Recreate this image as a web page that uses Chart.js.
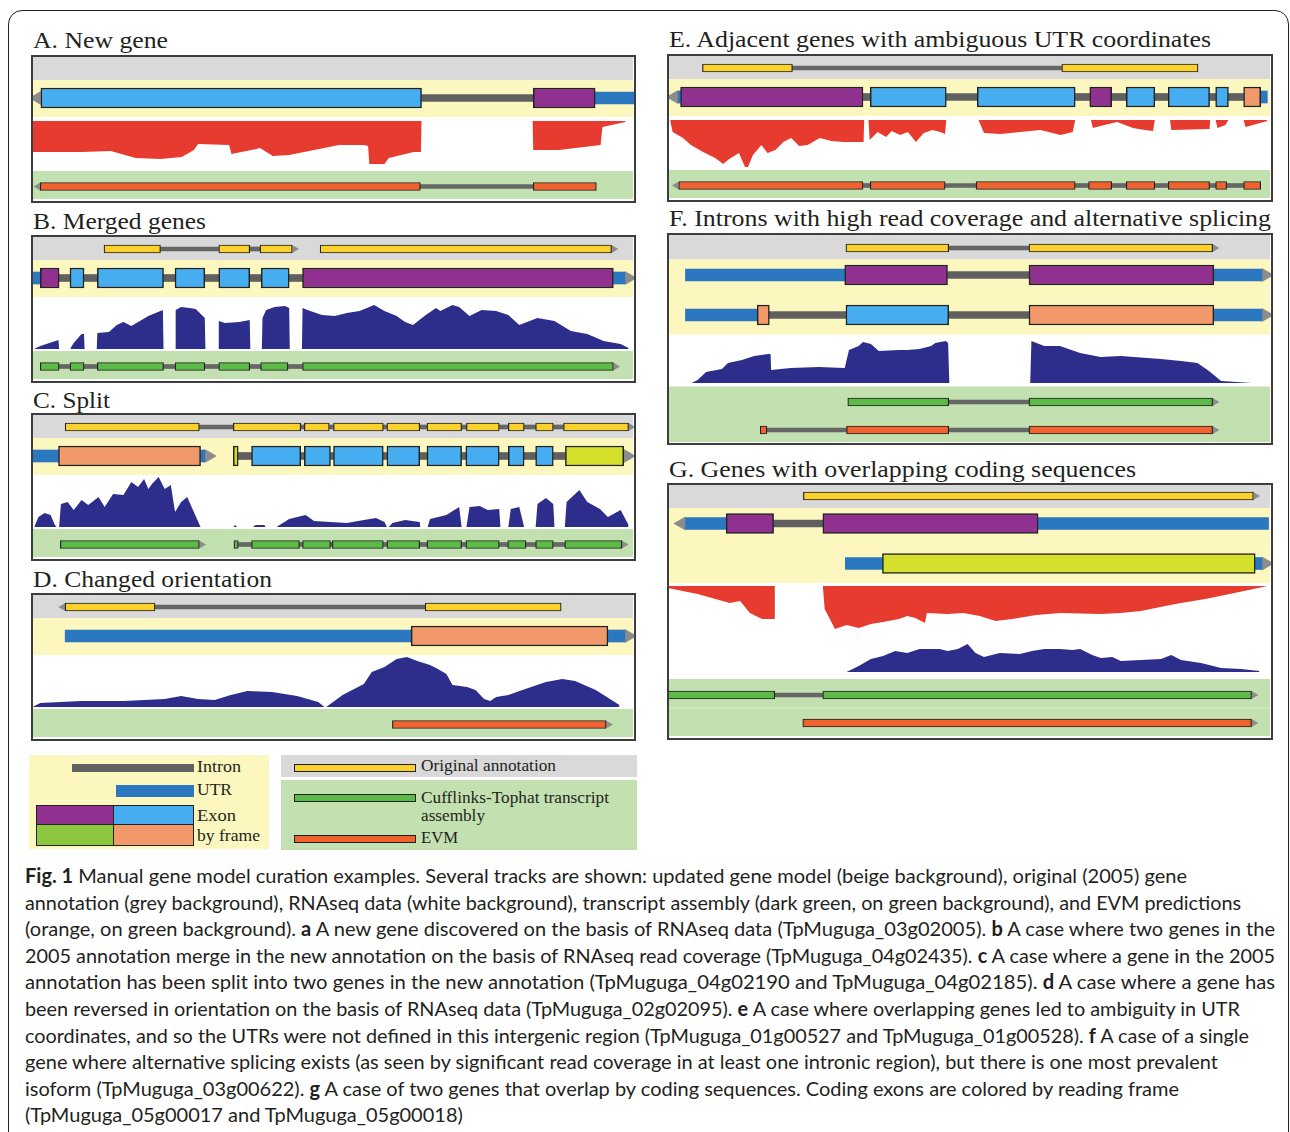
<!DOCTYPE html>
<html>
<head>
<meta charset="utf-8">
<script src="https://cdn.jsdelivr.net/npm/chart.js@4.4.1/dist/chart.umd.min.js"></script>
<style>
html, body { margin: 0; padding: 0; background: #fff; }
body { width: 1290px; height: 1132px; position: relative; overflow: hidden; }
#frame { position: absolute; left: 8px; top: 10px; width: 1281px; height: 1300px; border: 1.5px solid #222; border-radius: 14px; box-sizing: border-box; }
.box { position: absolute; border: 2px solid #3d3d3d; box-sizing: border-box; background: #fff; }
.box canvas { position: absolute; left: 0; top: 0; }
.t { position: absolute; white-space: nowrap; transform-origin: 0 0; color: #231f20; }
.serif { font-family: 'Liberation Serif', 'Times New Roman', serif; }
.cap { font-family: Lato, sans-serif; }
.sw { position: absolute; box-sizing: border-box; }
</style>
</head>
<body>
<div id="frame"></div>
<script>
// ---- data: positions are per-mille of the panel width, depths are read coverage (px-ish units)
// gene models: [start, end, kind]  kind u = UTR, p/b/o/y = exon reading frame
const A_MODEL = [[20, 647, 'b'], [831, 933, 'p'], [933, 997, 'u']];
const A_EVM = [[19, 645], [831, 935]];
const A_RNASEQ_MINUS = [[5, 31], [88, 31], [135, 30], [176, 37], [217, 38], [252, 36], [272, 29], [279, 23], [330, 24], [334, 33], [375, 28], [381, 27], [402, 35], [429, 34], [470, 29], [511, 24], [552, 24], [559, 25], [561, 43], [586, 43], [593, 37], [634, 31], [646, 31], [647, 0], [830, 0], [831, 29], [873, 29], [942, 24], [945, 6], [983, 1]];

const B_ORIG_1 = [[124, 217], [313, 364], [381, 434]];
const B_ORIG_2 = [[480, 960]];
const B_MODEL = [[2, 19, 'u'], [19, 50, 'p'], [68, 91, 'b'], [113, 222, 'b'], [241, 290, 'b'], [313, 364, 'b'], [383, 429, 'b'], [451, 963, 'p'], [963, 982, 'u']];
const B_CUFF = [[19, 50], [68, 91], [113, 222], [241, 290], [313, 364], [382, 427], [451, 963]];
const B_RNASEQ_PLUS = [[9, 0], [19, 3], [49, 9], [50, 0], [68, 0], [69, 1], [74, 6], [87, 15], [91, 15], [92, 0], [112, 0], [113, 16], [132, 17], [145, 24], [156, 27], [169, 23], [197, 33], [221, 39], [222, 0], [241, 0], [242, 39], [251, 42], [265, 41], [275, 40], [285, 34], [290, 31], [291, 0], [312, 0], [313, 28], [323, 26], [347, 27], [364, 29], [365, 0], [384, 0], [385, 31], [391, 39], [405, 42], [422, 43], [429, 41], [430, 0], [450, 0], [451, 41], [459, 39], [483, 34], [504, 33], [524, 36], [545, 38], [569, 44], [586, 38], [606, 33], [620, 27], [633, 24], [654, 34], [671, 41], [678, 38], [698, 44], [709, 42], [726, 33], [746, 39], [770, 38], [790, 34], [808, 24], [838, 31], [866, 28], [893, 18], [920, 15], [947, 8], [975, 5], [988, 1]];

const C_ORIG = [[60, 281], [337, 448], [454, 495], [502, 584], [590, 644], [656, 713], [721, 775], [790, 816], [835, 864], [881, 988]];
const C_MODEL_1 = [[6, 49, 'u'], [49, 283, 'o'], [283, 290, 'u']];
const C_MODEL_2 = [[337, 345, 'y'], [367, 448, 'b'], [454, 497, 'b'], [502, 584, 'b'], [590, 644, 'b'], [656, 713, 'b'], [720, 775, 'b'], [790, 816, 'b'], [835, 864, 'b'], [884, 980, 'y']];
const C_CUFF_1 = [[52, 281]];
const C_CUFF_2 = [[338, 345], [367, 446], [451, 497], [500, 584], [590, 644], [656, 713], [720, 775], [789, 819], [835, 864], [883, 977]];
const C_RNASEQ_PLUS = [[9, 0], [16, 10], [26, 14], [36, 12], [43, 2], [46, 0], [50, 0], [53, 23], [64, 25], [74, 17], [87, 27], [98, 22], [115, 30], [125, 20], [139, 33], [156, 32], [169, 45], [180, 40], [190, 48], [197, 38], [203, 43], [214, 50], [224, 38], [234, 42], [241, 15], [251, 25], [261, 30], [272, 15], [283, 0], [337, 0], [340, 2], [343, 0], [369, 0], [374, 2], [388, 2], [390, 0], [408, 0], [429, 8], [456, 12], [470, 6], [497, 5], [524, 4], [552, 7], [572, 9], [586, 5], [590, 0], [593, 0], [599, 4], [620, 7], [644, 5], [645, 0], [657, 0], [661, 8], [688, 12], [709, 20], [713, 0], [721, 0], [726, 20], [743, 21], [756, 17], [775, 18], [777, 0], [790, 0], [794, 18], [808, 20], [816, 0], [835, 0], [838, 23], [852, 29], [864, 23], [866, 0], [883, 0], [886, 25], [907, 37], [920, 25], [941, 18], [954, 10], [975, 17], [988, 2]];

const D_ORIG = [[60, 208], [653, 877]];
const D_MODEL = [[60, 630, 'u'], [630, 954, 'o'], [954, 982, 'u']];
const D_EVM = [[599, 951]];
const D_RNASEQ_PLUS = [[6, 0], [19, 4], [87, 6], [156, 6], [224, 8], [251, 11], [279, 8], [306, 7], [333, 12], [360, 16], [401, 15], [442, 11], [477, 5], [487, 0], [490, 0], [517, 12], [552, 23], [565, 35], [586, 40], [606, 48], [623, 50], [640, 46], [661, 42], [674, 38], [688, 33], [698, 22], [722, 20], [736, 17], [750, 8], [760, 6], [770, 10], [790, 12], [818, 18], [852, 25], [879, 28], [900, 26], [934, 17], [973, 2]];

const E_ORIG = [[62, 210], [653, 877]];
const E_MODEL = [[22, 26, 'u'], [26, 326, 'p'], [338, 463, 'b'], [514, 675, 'b'], [699, 735, 'p'], [759, 806, 'b'], [828, 896, 'b'], [906, 927, 'b'], [952, 980, 'o'], [980, 991, 'u']];
const E_EVM = [[23, 326], [338, 461], [512, 675], [697, 735], [759, 806], [828, 896], [906, 924], [952, 980]];
const E_RNASEQ_MINUS = [[9, 1], [13, 12], [30, 18], [43, 25], [63, 32], [83, 38], [96, 44], [106, 39], [122, 33], [132, 47], [137, 47], [145, 35], [159, 25], [169, 33], [182, 30], [195, 22], [208, 18], [221, 26], [235, 25], [255, 18], [274, 21], [294, 22], [327, 22], [328, 0], [335, 0], [337, 20], [350, 12], [364, 17], [373, 11], [387, 15], [400, 12], [413, 22], [426, 13], [440, 10], [453, 12], [461, 14], [463, 0], [516, 0], [525, 13], [552, 14], [585, 12], [618, 10], [651, 15], [671, 12], [675, 0], [701, 0], [704, 8], [730, 4], [744, 2], [770, 8], [790, 10], [803, 11], [806, 0], [831, 0], [833, 10], [896, 9], [897, 0], [906, 0], [909, 8], [922, 5], [927, 0], [952, 0], [955, 7], [991, 1]];

const F_ORIG = [[298, 467], [599, 901]];
const F_MODEL_1 = [[34, 296, 'u'], [296, 465, 'p'], [599, 903, 'p'], [903, 982, 'u']];
const F_MODEL_2 = [[34, 152, 'u'], [152, 172, 'o'], [298, 467, 'b'], [599, 903, 'o'], [903, 982, 'u']];
const F_CUFF = [[301, 467], [599, 901]];
const F_EVM = [[157, 168], [299, 467], [599, 901]];
const F_RNASEQ_PLUS = [[44, 0], [54, 3], [68, 11], [94, 14], [104, 20], [127, 23], [147, 27], [170, 29], [174, 29], [175, 13], [207, 15], [253, 16], [296, 15], [303, 33], [319, 37], [326, 41], [339, 39], [352, 32], [385, 33], [399, 33], [419, 34], [438, 37], [445, 40], [462, 42], [466, 40], [468, 0], [601, 0], [603, 42], [624, 37], [650, 37], [683, 30], [717, 26], [750, 27], [816, 24], [849, 22], [876, 20], [895, 12], [915, 2], [965, 0]];

const G_ORIG = [[228, 968]];
const G_MODEL_1 = [[34, 101, 'u'], [101, 179, 'p'], [260, 614, 'p'], [614, 993, 'u']];
const G_MODEL_2 = [[297, 358, 'u'], [358, 971, 'y'], [971, 982, 'u']];
const G_CUFF = [[5, 181], [260, 965]];
const G_EVM = [[227, 965]];
const G_RNASEQ_MINUS = [[5, 2], [54, 8], [107, 17], [124, 15], [140, 27], [160, 33], [180, 33], [181, 0], [260, 0], [263, 23], [280, 43], [299, 39], [319, 42], [339, 38], [359, 36], [385, 33], [399, 30], [412, 32], [428, 37], [431, 27], [465, 28], [491, 27], [518, 30], [544, 35], [571, 33], [611, 29], [650, 27], [717, 28], [750, 27], [783, 25], [823, 20], [849, 17], [889, 13], [929, 8], [968, 3], [991, 0]];
const G_RNASEQ_PLUS = [[299, 0], [319, 6], [339, 13], [359, 16], [379, 21], [399, 19], [419, 23], [438, 23], [452, 23], [465, 21], [482, 23], [498, 28], [511, 19], [525, 15], [551, 19], [584, 18], [604, 21], [624, 23], [650, 23], [670, 22], [683, 23], [703, 17], [717, 14], [736, 15], [750, 11], [783, 12], [816, 13], [833, 17], [849, 12], [882, 9], [915, 4], [948, 3], [978, 1]];

const TITLES = ['A. New gene', 'B. Merged genes', 'C. Split', 'D. Changed orientation',
  'E. Adjacent genes with ambiguous UTR coordinates',
  'F. Introns with high read coverage and alternative splicing',
  'G. Genes with overlapping coding sequences'];

// ---- styles
const GREY_BG = '#d9d9d9', BEIGE = '#fbf7be', GREEN_BG = '#c3e0b0';
const FRAME = { u: '#2b78c0', p: '#91318f', b: '#46aef0', o: '#f1996b', y: '#d4e02c' };
const THIN = { orig: '#fbd12d', cuff: '#5cba47', evm: '#f0632f' };
const RED = '#e73b2f', NAVY = '#2d2e8c', INTRON = '#606060', EDGE = '#222';
const X_MIN = 7, X_MAX = 997;

const STD_BANDS = [[0, 23, GREY_BG], [23, 60, BEIGE], [114, 142, GREEN_BG]];
const STD = { orig: 12, model: 41, top: 64, base: 112, low: 129.5 };

const PANELS = [
  { box: [31, 55, 605, 148], title: 0, tw: 135, tl: 33, tb: 48.5, bands: STD_BANDS,
    tracks: [['model', A_MODEL, STD.model, '-'], ['evm', A_EVM, STD.low, '-']],
    cov: [[A_RNASEQ_MINUS, STD.top, 1, RED]] },
  { box: [31, 235, 605, 148], title: 1, tw: 173, tl: 33, tb: 229, bands: STD_BANDS,
    tracks: [['orig', B_ORIG_1, STD.orig, '+'], ['orig', B_ORIG_2, STD.orig, '+'], ['model', B_MODEL, STD.model, '+'], ['cuff', B_CUFF, STD.low, '+']],
    cov: [[B_RNASEQ_PLUS, STD.base, -1, NAVY]] },
  { box: [31, 413, 605, 148], title: 2, tw: 77, tl: 33, tb: 408.5, bands: STD_BANDS,
    tracks: [['orig', C_ORIG, STD.orig, '+'], ['model', C_MODEL_1, STD.model, '+'], ['model', C_MODEL_2, STD.model, '+'], ['cuff', C_CUFF_1, STD.low, '+'], ['cuff', C_CUFF_2, STD.low, '+']],
    cov: [[C_RNASEQ_PLUS, STD.base, -1, NAVY]] },
  { box: [31, 593, 605, 148], title: 3, tw: 239, tl: 33, tb: 587.5, bands: STD_BANDS,
    tracks: [['orig', D_ORIG, STD.orig, '-'], ['model', D_MODEL, STD.model, '+'], ['evm', D_EVM, STD.low, '+']],
    cov: [[D_RNASEQ_PLUS, STD.base, -1, NAVY]] },
  { box: [667, 54, 606, 148], title: 4, tw: 542, tl: 669, tb: 47, bands: STD_BANDS,
    tracks: [['orig', E_ORIG, STD.orig, null], ['model', E_MODEL, STD.model, '-'], ['evm', E_EVM, STD.low, '-']],
    cov: [[E_RNASEQ_MINUS, STD.top, 1, RED]] },
  { box: [667, 233, 606, 212], title: 5, tw: 602, tl: 669, tb: 226.5,
    bands: [[0, 24.5, GREY_BG], [24.5, 99.5, BEIGE], [151.5, 207, GREEN_BG]],
    tracks: [['orig', F_ORIG, 13, '+'], ['model', F_MODEL_1, 40, '+'], ['model', F_MODEL_2, 80, '+'], ['cuff', F_CUFF, 167, '+'], ['evm', F_EVM, 195, '+']],
    cov: [[F_RNASEQ_PLUS, 148, -1, NAVY]] },
  { box: [667, 483, 606, 257], title: 6, tw: 467, tl: 669, tb: 477,
    bands: [[0, 23, GREY_BG], [23, 98, BEIGE], [194, 251, GREEN_BG], [222.5, 223.5, '#d6ebc8']],
    tracks: [['orig', G_ORIG, 11, '+'], ['model', G_MODEL_1, 38.5, '-'], ['model', G_MODEL_2, 78.5, '+'], ['cuff', G_CUFF, 210, '+'], ['evm', G_EVM, 238, '+']],
    cov: [[G_RNASEQ_MINUS, 101, 1, RED], [G_RNASEQ_PLUS, 187, -1, NAVY]] }
];

const bandPlugin = {
  id: 'bands',
  beforeDatasetsDraw(chart, args, opts) {
    const { ctx, chartArea, scales } = chart;
    ctx.save();
    for (const [y0, y1, c] of opts.bands) {
      const p0 = scales.y.getPixelForValue(y0), p1 = scales.y.getPixelForValue(y1);
      ctx.fillStyle = c;
      ctx.fillRect(chartArea.left, p0, chartArea.right - chartArea.left - 1, p1 - p0);
    }
    ctx.restore();
  }
};

function bar(data, thickness, color, order, border) {
  return {
    type: 'bar', indexAxis: 'y', grouped: false, barThickness: thickness, data,
    backgroundColor: color, borderColor: EDGE, borderWidth: border || 0,
    borderSkipped: false, order
  };
}

function buildPanel(p) {
  const [L, T, BW, BH] = p.box;
  const W = BW - 4, H = BH - 4;
  const div = document.createElement('div');
  div.className = 'box';
  Object.assign(div.style, { left: L + 'px', top: T + 'px', width: BW + 'px', height: BH + 'px' });
  const cv = document.createElement('canvas');
  cv.width = W; cv.height = H;
  div.appendChild(cv);
  document.body.appendChild(div);

  const uPerPx = (X_MAX - X_MIN) / W;
  const introns = [], thinIntrons = [], utrs = [];
  const exons = { p: [], b: [], o: [], y: [] };
  const thin = { orig: [], cuff: [], evm: [] };
  const arrows = [], arrowR = [], arrowRot = [];

  for (const [kind, segs, y, strand] of p.tracks) {
    const model = kind === 'model';
    for (let i = 0; i < segs.length - 1; i++) {
      const a = segs[i][1], b = segs[i + 1][0];
      if (b > a) (model ? introns : thinIntrons).push({ y, x: [a, b] });
    }
    for (const s of segs) {
      const item = { y, x: [s[0], s[1]] };
      if (!model) thin[kind].push(item);
      else if (s[2] === 'u') utrs.push(item);
      else exons[s[2]].push(item);
    }
    if (strand) {
      const r = model ? 8 : 4.5;
      const right = strand === '+';
      const end = right ? segs[segs.length - 1][1] : segs[0][0];
      arrows.push({ x: end + (right ? 1 : -1) * (r / 2) * uPerPx, y });
      arrowR.push(r);
      arrowRot.push(right ? 90 : -90);
    }
  }

  const datasets = [];
  for (const [data, base, dir, color] of p.cov) {
    datasets.push({
      type: 'line', data: data.map(([u, d]) => ({ x: u, y: base + dir * d })),
      fill: { value: base }, backgroundColor: color, borderColor: 'rgba(0,0,0,0)',
      borderWidth: 1, pointRadius: 0, tension: 0, order: 9
    });
  }
  datasets.push(bar(introns, 7, INTRON, 8));
  datasets.push(bar(thinIntrons, 4, '#666', 8));
  datasets.push(bar(utrs, 12, FRAME.u, 6));
  datasets.push({
    type: 'line', showLine: false, data: arrows, pointStyle: 'triangle',
    pointRadius: arrowR, pointRotation: arrowRot, pointBackgroundColor: '#8c8c8c',
    pointBorderColor: 'rgba(0,0,0,0)', pointBorderWidth: 0, order: 7
  });
  for (const f of ['p', 'b', 'o', 'y']) datasets.push(bar(exons[f], 20, FRAME[f], 2, 1.5));
  for (const k of ['orig', 'cuff', 'evm']) datasets.push(bar(thin[k], 8, THIN[k], 2, 1.2));

  new Chart(cv, {
    type: 'bar',
    data: { datasets },
    options: {
      responsive: false, animation: false, events: [],
      layout: { padding: 0, autoPadding: false },
      scales: {
        x: { type: 'linear', min: X_MIN, max: X_MAX, display: false, offset: false, grid: { offset: false } },
        y: { type: 'linear', min: 0, max: H, reverse: true, display: false, offset: false, grid: { offset: false } }
      },
      plugins: { legend: { display: false }, tooltip: { enabled: false }, bands: { bands: p.bands } }
    },
    plugins: [bandPlugin]
  });
}

// text helpers: baseline placement + width fitting
const fitList = [];
function addText(html, cls, left, baseline, size, ratio, width) {
  const el = document.createElement('div');
  el.className = 't ' + cls;
  el.innerHTML = html;
  Object.assign(el.style, { left: left + 'px', top: (baseline - size * ratio) + 'px', fontSize: size + 'px', lineHeight: size + 'px' });
  document.body.appendChild(el);
  fitList.push([el, width]);
}
function fitAll() {
  let last = 1;
  for (const [el, w] of fitList) {
    el.style.transform = 'none';
    if (w) last = w / el.getBoundingClientRect().width;
    el.style.transform = 'scaleX(' + last + ')';
  }
}
function sw(left, top, w, h, bg, border) {
  const el = document.createElement('div');
  el.className = 'sw';
  Object.assign(el.style, { left: left + 'px', top: top + 'px', width: w + 'px', height: h + 'px', background: bg });
  if (border) el.style.border = border;
  document.body.appendChild(el);
}

const SERIF = 0.8375, LATO = 0.887;
PANELS.forEach(p => {
  buildPanel(p);
  addText(TITLES[p.title], 'serif', p.tl, p.tb, 23, SERIF, p.tw);
});

// legend
sw(29, 755, 240, 94, BEIGE);
sw(72, 764, 122, 8, INTRON);
sw(116, 785, 78, 12, FRAME.u);
sw(36, 805, 79, 21, FRAME.p, '1.5px solid ' + EDGE);
sw(113, 805, 81, 21, FRAME.b, '1.5px solid ' + EDGE);
sw(36, 824, 79, 22, '#8dc63f', '1.5px solid ' + EDGE);
sw(113, 824, 81, 22, FRAME.o, '1.5px solid ' + EDGE);
sw(281, 755, 356, 22, GREY_BG);
sw(281, 780, 356, 70, GREEN_BG);
sw(294, 764, 122, 8, THIN.orig, '1.2px solid ' + EDGE);
sw(294, 794, 122, 8, THIN.cuff, '1.2px solid ' + EDGE);
sw(294, 835, 122, 8, THIN.evm, '1.2px solid ' + EDGE);
const LEGEND_TEXT = [
  ['Intron', 197, 772, 44], ['UTR', 197, 795, 35], ['Exon', 197, 821, 39], ['by frame', 197, 841, 63],
  ['Original annotation', 421, 771, 135], ['Cufflinks-Tophat transcript', 421, 803, 188],
  ['assembly', 421, 821, 64], ['EVM', 421, 843, 37]
];
LEGEND_TEXT.forEach(([s, x, b, w]) => addText(s, 'serif', x, b, 16, SERIF, w));

// caption (last line keeps the previous line's horizontal scale)
const CAPTION = [
  ['<b>Fig. 1</b> Manual gene model curation examples. Several tracks are shown: updated gene model (beige background), original (2005) gene', 1187],
  ['annotation (grey background), RNAseq data (white background), transcript assembly (dark green, on green background), and EVM predictions', 1241],
  ['(orange, on green background). <b>a</b> A new gene discovered on the basis of RNAseq data (TpMuguga_03g02005). <b>b</b> A case where two genes in the', 1275],
  ['2005 annotation merge in the new annotation on the basis of RNAseq read coverage (TpMuguga_04g02435). <b>c</b> A case where a gene in the 2005', 1275],
  ['annotation has been split into two genes in the new annotation (TpMuguga_04g02190 and TpMuguga_04g02185). <b>d</b> A case where a gene has', 1275],
  ['been reversed in orientation on the basis of RNAseq data (TpMuguga_02g02095). <b>e</b> A case where overlapping genes led to ambiguity in UTR', 1240],
  ['coordinates, and so the UTRs were not defined in this intergenic region (TpMuguga_01g00527 and TpMuguga_01g00528). <b>f</b> A case of a single', 1249],
  ['gene where alternative splicing exists (as seen by significant read coverage in at least one intronic region), but there is one most prevalent', 1218],
  ['isoform (TpMuguga_03g00622). <b>g</b> A case of two genes that overlap by coding sequences. Coding exons are colored by reading frame', 1179],
  ['(TpMuguga_05g00017 and TpMuguga_05g00018)', null]
];
CAPTION.forEach(([s, end], i) => addText(s, 'cap', 25, 883 + i * 26.55, 20, LATO, end ? end - 25 : null));

fitAll();
if (document.fonts && document.fonts.ready) document.fonts.ready.then(fitAll);
</script>
</body>
</html>
